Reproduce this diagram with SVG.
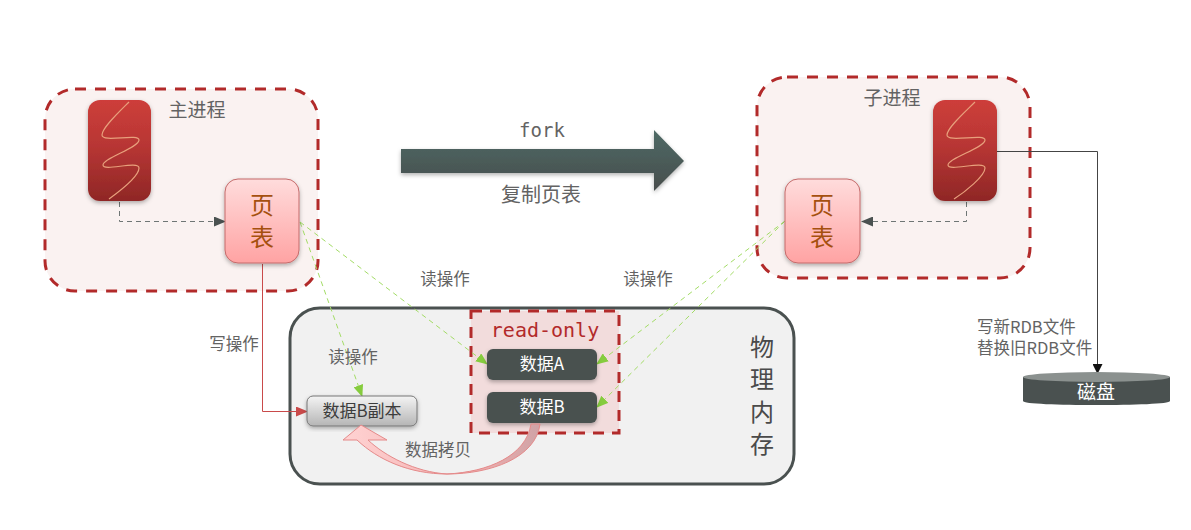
<svg xmlns="http://www.w3.org/2000/svg" width="1191" height="530" viewBox="0 0 1191 530">
<style>
.cjk{font-family:"Noto Sans CJK SC","Liberation Sans",sans-serif}
.lbl{font-size:16.500px;fill:#636363;text-anchor:middle}
.big{font-size:19px}
.proc{fill:#faf2f1;stroke:#b22a2a;stroke-width:3;stroke-dasharray:11 9}
.thread{fill:url(#gT);filter:url(#sh)}
.sq{fill:none;stroke:#e8a07c;stroke-width:1.200}
.pt{fill:url(#gP);stroke:#c46a6a;stroke-width:1;filter:url(#sh)}
.ptt{font-size:24px;fill:#a5500f;text-anchor:middle}
.data{fill:#4a5150;filter:url(#sh)}
.dt{font-size:17px;fill:#fff;text-anchor:middle}
.gr{fill:none;stroke:#a3dc66;stroke-width:1;stroke-dasharray:5 4}
.gd{fill:none;stroke:#6f7675;stroke-width:1;stroke-dasharray:5 4}
.mono{font-family:"DejaVu Sans Mono","Liberation Mono",monospace;text-anchor:middle}
</style>
<defs>
<linearGradient id="gT" x1="0" y1="0" x2="0" y2="1"><stop offset="0" stop-color="#cd3e3a"/><stop offset="0.45" stop-color="#b83634"/><stop offset="1" stop-color="#8f2726"/></linearGradient>
<linearGradient id="gP" x1="0" y1="0" x2="0" y2="1"><stop offset="0" stop-color="#ffdcdc"/><stop offset="1" stop-color="#ffa3a3"/></linearGradient>
<linearGradient id="gC" x1="0" y1="0" x2="0" y2="1"><stop offset="0" stop-color="#f4f4f4"/><stop offset="1" stop-color="#b5b5b5"/></linearGradient>
<linearGradient id="gF" x1="0" y1="0" x2="0" y2="1"><stop offset="0" stop-color="#4f6a66"/><stop offset="1" stop-color="#474d4c"/></linearGradient>
<linearGradient id="gC2" gradientUnits="userSpaceOnUse" x1="540" y1="425" x2="345" y2="440"><stop offset="0" stop-color="#cfa3a6"/><stop offset="0.4" stop-color="#f3b0b0"/><stop offset="1" stop-color="#ffd2d2"/></linearGradient>
<filter id="sh" x="-20%" y="-20%" width="140%" height="140%"><feDropShadow dx="0" dy="2" stdDeviation="2" flood-color="#000" flood-opacity="0.3"/></filter>
<marker id="mG" markerWidth="12" markerHeight="10" refX="11" refY="5" orient="auto" markerUnits="userSpaceOnUse"><path d="M0 0L12 5L0 10Z" fill="#86cc3e"/></marker>
<marker id="mD" markerWidth="12" markerHeight="10" refX="11" refY="5" orient="auto" markerUnits="userSpaceOnUse"><path d="M0 0L12 5L0 10Z" fill="#4a5150"/></marker>
<marker id="mR" markerWidth="12" markerHeight="10" refX="11" refY="5" orient="auto" markerUnits="userSpaceOnUse"><path d="M0 0L12 5L0 10Z" fill="#c94a4a"/></marker>
<marker id="mK" markerWidth="10" markerHeight="10" refX="9" refY="5" orient="auto" markerUnits="userSpaceOnUse"><path d="M0 0L10 5L0 10Z" fill="#111"/></marker>
</defs>
<rect width="1191" height="530" fill="#fff"/>

<g id="main-process">
<rect class="proc" x="45" y="89" width="273" height="202" rx="30"/>
<text class="cjk lbl big" x="197" y="117">主进程</text>
</g>
<g id="child-process">
<rect class="proc" x="757" y="77" width="273" height="201" rx="30"/>
<text class="cjk lbl big" x="892" y="105">子进程</text>
</g>
<g id="memory">
<rect x="290" y="308" width="504" height="176" rx="30" fill="#f1f1f1" stroke="#4a5150" stroke-width="3"/>
<text class="cjk" font-size="24" fill="#4a4a4a" text-anchor="middle" x="762" y="356">物</text>
<text class="cjk" font-size="24" fill="#4a4a4a" text-anchor="middle" x="762" y="388">理</text>
<text class="cjk" font-size="24" fill="#4a4a4a" text-anchor="middle" x="762" y="421">内</text>
<text class="cjk" font-size="24" fill="#4a4a4a" text-anchor="middle" x="762" y="453">存</text>
</g>
<g id="read-only">
<rect x="471" y="311" width="148" height="122" fill="#f2dcdc" stroke="#b22a2a" stroke-width="3" stroke-dasharray="11 8"/>
<text class="mono" x="545" y="337" font-size="20" fill="#b22a2a">read-only</text>
</g>

<g id="connectors">
<path class="gd" d="M119.500 202V221.500H225" marker-end="url(#mD)"/>
<path class="gd" d="M966.500 202V221.500H862" marker-end="url(#mD)"/>
<path d="M262.500 264V411.500H307" fill="none" stroke="#c94a4a" stroke-width="1" marker-end="url(#mR)"/>
<path class="gr" d="M300 222L362 396" marker-end="url(#mG)"/>
<path class="gr" d="M300 222L487 364" marker-end="url(#mG)"/>
<path class="gr" d="M785 221L597 364" marker-end="url(#mG)"/>
<path class="gr" d="M785 221L597 407" marker-end="url(#mG)"/>
<path d="M997 151.500H1097.500V373" fill="none" stroke="#444" stroke-width="1" marker-end="url(#mK)"/>
</g>

<g id="fork-arrow">
<path d="M401 149H654V130L684 161L654 191V173H401Z" fill="url(#gF)" filter="url(#sh)"/>
<text class="mono" x="542" y="137" font-size="19" fill="#636363">fork</text>
<text class="cjk lbl" x="541" y="202" style="font-size:20px">复制页表</text>
</g>

<g id="thread-main">
<rect class="thread" x="88" y="100" width="63" height="101" rx="12"/>
<path class="sq" d="M129 102C118 113 102 128 102 135C102 143 139 133 139 140C139 148 103 158 103 165C103 172 139 160 139 168C139 176 120 191 109 199"/>
</g>
<g id="thread-child">
<rect class="thread" x="933" y="100" width="64" height="101" rx="12"/>
<path class="sq" d="M975 102C964 113 947 128 947 135C947 143 985 133 985 140C985 148 948 158 948 165C948 172 985 160 985 168C985 176 965 192 954 199"/>
</g>
<g id="pagetable-main">
<rect class="pt" x="225" y="179" width="74" height="84" rx="13"/>
<text class="cjk ptt" x="262" y="214">页</text>
<text class="cjk ptt" x="262" y="246">表</text>
</g>
<g id="pagetable-child">
<rect class="pt" x="785" y="179" width="75" height="84" rx="13"/>
<text class="cjk ptt" x="822" y="214">页</text>
<text class="cjk ptt" x="822" y="246">表</text>
</g>
<g id="data-a">
<rect class="data" x="487" y="349" width="110" height="31" rx="6"/>
<text class="cjk dt" x="542" y="370">数据A</text>
</g>
<g id="data-b">
<rect class="data" x="487" y="392" width="110" height="31" rx="6"/>
<text class="cjk dt" x="542" y="413">数据B</text>
</g>
<g id="data-b-copy">
<rect x="307" y="396" width="110" height="30" rx="6" fill="url(#gC)" stroke="#777" stroke-width="1" filter="url(#sh)"/>
<text class="cjk" font-size="17" fill="#3c3c3c" text-anchor="middle" x="362" y="417">数据B副本</text>
</g>
<g id="copy-arrow">
<path d="M531 424H540C536 458 490 474 447 474C410 474 378 460 357 440H343L361 425L387 440H368C385 456 415 472 447 474C488 472 526 456 531 424Z" fill="url(#gC2)" stroke="#e58a8a" stroke-width="1"/>
<text class="cjk lbl" x="438" y="456">数据拷贝</text>
</g>
<g id="disk">
<path d="M1023 377V401C1023 404 1060 405 1096 405C1133 405 1170 404 1170 401V377Z" fill="#4a5150"/>
<ellipse cx="1096.500" cy="377" rx="73.500" ry="5" fill="#8b918f"/>
<text class="cjk" font-size="19" fill="#fff" text-anchor="middle" x="1096" y="399">磁盘</text>
</g>
<g id="labels">
<text class="cjk lbl" x="234" y="350">写操作</text>
<text class="cjk lbl" x="353" y="363">读操作</text>
<text class="cjk lbl" x="445" y="285">读操作</text>
<text class="cjk lbl" x="648" y="285">读操作</text>
<text class="cjk lbl" style="text-anchor:start"><tspan x="977" y="333">写新RDB文件</tspan><tspan x="977" y="354">替换旧RDB文件</tspan></text>
</g>
</svg>
